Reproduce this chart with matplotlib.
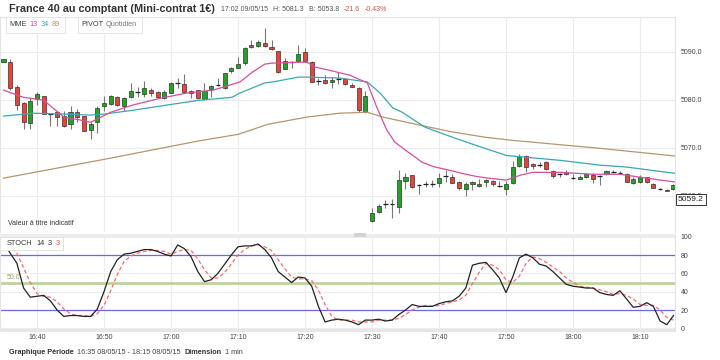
import numpy as np
import matplotlib
matplotlib.use("Agg")
import matplotlib.pyplot as plt
from matplotlib.patches import Rectangle

plt.rcParams['font.family'] = ['Liberation Sans', 'DejaVu Sans']

# --- donnees (minutes depuis 16:35) ---
opens = [5087.8, 5087.8, 5082.6, 5079.3, 5075.1, 5080.1, 5080.8, 5077.0, 5077.4, 5076.6,
         5074.9, 5077.4, 5076.6, 5073.7, 5075.3, 5078.7, 5079.1, 5080.5, 5078.7, 5080.5,
         5081.6, 5081.2, 5082.0, 5081.6, 5080.3, 5081.4, 5083.5, 5083.2, 5081.4, 5082.0,
         5080.1, 5082.2, 5083.0, 5082.4, 5086.0, 5086.6, 5087.6, 5091.4, 5091.1, 5091.8,
         5090.9, 5090.1, 5086.4, 5087.8, 5088.0, 5089.9, 5087.8, 5083.9, 5084.1, 5083.7,
         5084.3, 5084.3, 5083.0, 5082.4, 5077.4, 5054.8, 5056.6, 5058.3, 5058.3, 5057.7,
         5063.1, 5064.3, 5062.2, 5062.5, 5062.5, 5062.7, 5064.1, 5063.9, 5062.9, 5061.4,
         5062.5, 5062.0, 5062.9, 5063.1, 5062.0, 5061.4, 5062.7, 5066.2, 5068.3, 5066.6,
         5066.4, 5067.0, 5065.2, 5064.5, 5065.0, 5063.7, 5063.5, 5063.9, 5064.3, 5064.1,
         5064.5, 5065.0, 5064.7, 5064.5, 5062.7, 5062.9, 5063.9, 5062.5, 5061.4, 5061.3,
         5061.4]
highs = [5088.4, 5088.4, 5083.0, 5079.5, 5080.3, 5081.6, 5080.8, 5077.2, 5077.6, 5077.6,
         5078.7, 5078.1, 5076.7, 5075.3, 5078.7, 5080.8, 5080.9, 5080.8, 5080.5, 5083.5,
         5082.6, 5083.9, 5082.4, 5081.8, 5082.0, 5083.7, 5084.5, 5085.3, 5082.0, 5082.1,
         5083.5, 5083.0, 5084.5, 5085.6, 5086.8, 5088.9, 5090.9, 5092.4, 5092.4, 5094.9,
         5092.4, 5090.1, 5088.7, 5088.0, 5091.4, 5090.7, 5088.0, 5084.5, 5085.1, 5084.7,
         5085.7, 5084.5, 5083.5, 5082.6, 5081.8, 5057.5, 5058.3, 5059.1, 5059.3, 5065.4,
         5064.7, 5064.4, 5062.5, 5063.1, 5063.3, 5064.7, 5065.4, 5064.5, 5063.1, 5062.9,
         5063.1, 5063.5, 5063.5, 5063.3, 5063.1, 5063.1, 5067.2, 5068.7, 5068.5, 5066.8,
         5067.0, 5067.2, 5065.4, 5064.7, 5065.4, 5064.5, 5064.3, 5064.7, 5064.7, 5064.3,
         5065.4, 5065.4, 5065.2, 5064.7, 5063.9, 5064.3, 5064.0, 5062.6, 5061.6, 5061.4,
         5062.5]
lows = [5087.8, 5082.0, 5077.8, 5073.9, 5073.9, 5078.9, 5077.0, 5074.5, 5074.5, 5074.3,
        5073.9, 5075.3, 5073.4, 5071.8, 5073.0, 5077.6, 5079.0, 5078.7, 5077.6, 5080.3,
        5080.5, 5080.5, 5080.8, 5080.3, 5080.1, 5081.4, 5082.4, 5081.4, 5080.3, 5080.2,
        5079.9, 5080.5, 5082.8, 5082.3, 5085.5, 5086.5, 5087.2, 5090.7, 5090.9, 5090.9,
        5090.3, 5085.5, 5086.3, 5086.6, 5087.8, 5087.9, 5083.6, 5083.0, 5083.2, 5082.4,
        5083.2, 5083.0, 5082.6, 5077.4, 5077.3, 5054.6, 5056.4, 5057.5, 5055.4, 5056.4,
        5061.4, 5061.7, 5060.4, 5061.8, 5061.8, 5061.8, 5062.9, 5062.6, 5061.2, 5060.0,
        5061.2, 5061.8, 5061.8, 5062.0, 5061.8, 5060.2, 5062.5, 5066.0, 5065.0, 5065.6,
        5066.0, 5065.4, 5063.7, 5063.9, 5064.3, 5063.5, 5063.5, 5063.7, 5062.7, 5062.2,
        5064.3, 5064.7, 5064.5, 5062.8, 5062.5, 5062.7, 5062.7, 5061.6, 5061.3, 5061.0,
        5061.2]
closes = [5088.4, 5082.4, 5078.9, 5075.3, 5079.7, 5081.2, 5077.0, 5077.0, 5076.4, 5074.5,
          5077.4, 5076.4, 5073.5, 5074.9, 5078.3, 5079.3, 5080.8, 5078.9, 5080.3, 5081.8,
          5081.6, 5082.4, 5081.4, 5080.5, 5081.6, 5083.5, 5083.5, 5081.6, 5081.8, 5080.3,
          5081.8, 5082.8, 5083.0, 5085.5, 5086.6, 5087.4, 5090.7, 5090.9, 5092.0, 5091.1,
          5090.5, 5085.7, 5088.0, 5087.8, 5089.5, 5088.0, 5083.7, 5083.9, 5083.5, 5084.1,
          5084.3, 5083.2, 5082.6, 5077.8, 5080.8, 5056.4, 5057.9, 5058.3, 5058.3, 5063.3,
          5063.9, 5061.8, 5062.2, 5062.5, 5062.5, 5063.7, 5064.1, 5062.7, 5061.6, 5062.5,
          5062.9, 5062.5, 5063.3, 5062.5, 5062.0, 5062.5, 5066.0, 5068.1, 5066.0, 5066.2,
          5066.4, 5065.6, 5064.1, 5064.5, 5064.5, 5063.7, 5063.9, 5064.5, 5063.5, 5064.1,
          5065.2, 5065.0, 5064.7, 5062.9, 5063.5, 5063.9, 5062.9, 5061.6, 5061.4, 5061.1,
          5062.2]

# moyennes mobiles exponentielles
mme13_t = [0, 3, 6, 9, 11.4, 13, 16, 19.3, 23.4, 27.4, 31.3, 35.3, 37.1, 39, 40, 44, 45.3,
           46.5, 48.4, 51.7, 54.3, 55.7, 57.2, 58.4, 60.4, 62.5, 64.4, 66.4, 68.4, 70.4,
           72.3, 75.1, 77.1, 79, 81.1, 83.1, 88, 92, 95, 98, 100.2]
mme13_v = [5082.0, 5080.5, 5079.9, 5076.4, 5075.8, 5075.3, 5077.4, 5078.9, 5080.3, 5081.4,
           5082.0, 5083.7, 5085.7, 5087.4, 5087.6, 5087.8, 5087.8, 5086.8, 5086.2, 5085.1,
           5083.5, 5078.5, 5073.7, 5071.2, 5069.1, 5067.0, 5066.0, 5065.4, 5064.7, 5064.1,
           5063.7, 5063.3, 5064.3, 5064.9, 5064.9, 5064.9, 5064.5, 5064.5, 5063.9, 5063.3,
           5062.9]
mme34_t = [0, 4.4, 9.5, 12.9, 14.9, 19.3, 24.4, 29.3, 34.1, 35.3, 39, 40.2, 44, 45.3, 50.2,
           54.3, 56.2, 58.1, 59.5, 62.9, 67, 71.4, 75.1, 83.1, 89, 93, 100.2]
mme34_v = [5076.6, 5077.2, 5077.0, 5076.8, 5077.0, 5077.8, 5078.9, 5079.9, 5080.5, 5081.4,
           5083.5, 5083.7, 5084.7, 5084.7, 5084.5, 5083.7, 5081.4, 5078.3, 5077.4, 5074.3,
           5072.2, 5070.1, 5068.4, 5067.4, 5066.4, 5066.0, 5064.7]
mme89_t = [0, 15, 29, 35, 39.5, 45.3, 50.2, 54.3, 56.6, 62.2, 67, 71.9, 75.6, 89, 100.2]
mme89_v = [5063.7, 5067.6, 5071.4, 5072.8, 5074.9, 5076.4, 5077.2, 5077.4, 5076.4, 5074.7,
           5073.3, 5072.2, 5071.6, 5069.9, 5068.3]

# stochastique 14 3 3
stoch_k = [94, 82, 71, 44, 34, 35, 36, 30, 20, 13, 14, 14, 13, 13, 21, 40, 62, 75, 81, 82,
           84, 86, 86, 84, 81, 79, 91, 87, 78, 62, 51, 53, 60, 70, 80, 89, 90, 90, 92, 86,
           77, 62, 56, 50, 56, 55, 46, 24, 7, 9, 10, 9, 7, 4, 9, 9, 10, 8, 9, 15,
           20, 26, 24, 24, 24, 27, 29, 30, 35, 44, 69, 71, 72, 64, 55, 39, 56, 77, 81, 77,
           70, 68, 62, 55, 48, 46, 45, 44, 44, 39, 37, 36, 41, 32, 23, 24, 28, 24, 8, 4, 14]
stoch_d = [97, 90, 82, 66, 50, 38, 35, 34, 29, 21, 16, 14, 14, 13, 16, 25, 41, 59, 73, 79,
           82, 84, 85, 85, 84, 81, 84, 86, 85, 76, 64, 55, 55, 61, 70, 80, 86, 90, 91, 89,
           85, 75, 65, 56, 54, 54, 52, 42, 26, 13, 9, 9, 9, 7, 7, 7, 9, 9, 9, 11,
           15, 20, 23, 25, 24, 25, 27, 29, 31, 36, 49, 61, 71, 69, 64, 53, 50, 57, 71, 78,
           76, 72, 67, 62, 55, 50, 46, 45, 44, 42, 40, 37, 38, 36, 32, 26, 25, 25, 20, 12, 9]

tick_pos = [5, 15, 25, 35, 45, 55, 65, 75, 85, 95]
tick_labels = ['16:40', '16:50', '17:00', '17:10', '17:20', '17:30', '17:40', '17:50',
               '18:00', '18:10']
prix_ticks = [5060, 5070, 5080, 5090]
dernier = 5059.2

W, H = 720, 360
VERT, ROUGE = '#1fa51f', '#e8433b'
C13, C34, C89 = '#d44f9f', '#3ba6b6', '#b6966b'
GRILLE = '#ececec'

fig = plt.figure(figsize=(7.2, 3.6), dpi=100)
fig.patch.set_facecolor('white')


def ftxt(x, y, s, **kw):
    kw.setdefault('va', 'center')
    return fig.text(x / W, 1 - y / H, s, **kw)


def frect(x0, y0, x1, y1, **kw):
    fig.patches.append(Rectangle((x0 / W, 1 - y1 / H), (x1 - x0) / W, (y1 - y0) / H,
                                 transform=fig.transFigure, **kw))


def chaine(x, y, morceaux, gap=3, **kw):
    # place les morceaux de texte les uns apres les autres
    rend = fig.canvas.get_renderer()
    for s, style in morceaux:
        tx = ftxt(x, y, s, **kw, **style)
        x += tx.get_window_extent(rend).width + gap


t = np.arange(len(closes))
o, h, l, c = map(np.array, (opens, highs, lows, closes))
xlim = (-3.5 / 6.7, (675 - 3.5) / 6.7)

# --- panneau des prix ---
ax = fig.add_axes([0, 1 - 232 / H, 675 / W, (232 - 17) / H])
ax.set_xlim(*xlim)
ax.set_ylim(5052.5, 5097.2)
ax.set_xticks(tick_pos)
ax.set_xticklabels([])
ax.set_yticks(prix_ticks)
ax.set_yticklabels([f'{v:.1f}' for v in prix_ticks])
ax.yaxis.tick_right()
ax.tick_params(length=0, labelsize=5, colors='#444444', pad=4)
ax.grid(True, color=GRILLE, lw=0.8)
ax.set_axisbelow(True)
for s in ax.spines:
    ax.spines[s].set_color('#e4e4e4')
ax.spines['bottom'].set_visible(False)

ax.vlines(t, l, h, color='#777777', lw=0.8, zorder=2)
doji = np.abs(c - o) < 0.15
couleurs = np.where(c >= o, VERT, ROUGE)
ax.bar(t[~doji], np.abs(c - o)[~doji], bottom=np.minimum(o, c)[~doji], width=0.6,
       color=couleurs[~doji], edgecolor='#333333', lw=0.5, zorder=3)
ax.hlines(c[doji], t[doji] - 0.35, t[doji] + 0.35, color='#222222', lw=0.9, zorder=3)

ax.plot(mme89_t, mme89_v, color=C89, lw=0.9, zorder=4)
ax.plot(mme34_t, mme34_v, color=C34, lw=0.9, zorder=4)
ax.plot(mme13_t, mme13_v, color=C13, lw=0.9, zorder=4)

# l'etiquette du dernier cours passe par-dessus celle de 5060
ax.text(1.004, dernier, f'{dernier:.1f}', transform=ax.get_yaxis_transform(), fontsize=6,
        va='center', ha='left', color='#222222', clip_on=False, zorder=10,
        bbox=dict(boxstyle='square,pad=0.25', fc='white', ec='#333333', lw=0.7))
ax.text(8 / 675, 0.04, 'Valeur à titre indicatif', transform=ax.transAxes, fontsize=5,
        color='#333333', va='center')

# --- panneau stochastique ---
ax2 = fig.add_axes([0, 1 - 331 / H, 675 / W, (331 - 235) / H])
ax2.set_xlim(*xlim)
ax2.set_ylim(-2.9, 101.9)
ax2.set_xticks(tick_pos)
ax2.set_xticklabels(tick_labels)
ax2.set_yticks([0, 20, 40, 60, 80, 100])
ax2.yaxis.tick_right()
ax2.tick_params(length=0, labelsize=5, colors='#444444', pad=4)
ax2.tick_params(axis='x', pad=2)
ax2.grid(True, color=GRILLE, lw=0.8)
ax2.set_axisbelow(True)
for s in ax2.spines:
    ax2.spines[s].set_color('#e4e4e4')
ax2.spines['bottom'].set_visible(False)
ax2.axhline(80, color='#6a6ae0', lw=0.9)
ax2.axhline(20, color='#6a6ae0', lw=0.9)
ax2.axhline(50, color='#bdd49b', lw=2)
ax2.text(7 / 675, 52, '50.0', transform=ax2.get_yaxis_transform(), fontsize=5,
         color='#8aae45', va='bottom')
ax2.plot(t, stoch_d, color='#ff6a6a', lw=0.9, dashes=(3, 2))
ax2.plot(t, stoch_k, color='#222222', lw=0.9)

# bandes de separation
frect(0, 233.5, 675, 237, color='#ececec', lw=0)
frect(354, 233, 366, 236.5, color='#d4d4d4', lw=0)
frect(0, 328.8, 675, 331.5, color='#e6e6e6', lw=0)

# --- textes ---
ftxt(9, 9.5, 'France 40 au comptant (Mini-contrat 1€)', fontsize=7.8, fontweight='bold',
     color='#333333')
gris = {'color': '#555555'}
rouge = {'color': '#e0503f'}
chaine(221, 9.5, [('17:02 09/05/15', gris), ('H: 5081.3', gris), ('B: 5053.8', gris),
                  ('-21.6', rouge), ('-0.43%', rouge)], gap=5, fontsize=5)

frect(6, 17, 65, 33, fc='white', ec='#e4e4e4', lw=0.7)
frect(78, 17, 142, 33, fc='white', ec='#e4e4e4', lw=0.7)
chaine(9, 25, [('MME', {'color': '#444444'}), ('13', {'color': C13}),
               ('34', {'color': C34}), ('89', {'color': C89})], gap=3, fontsize=5.3)
chaine(81, 25, [('PIVOT', {'color': '#444444'}), ('Quotidien', {'color': '#777777'})],
       gap=3, fontsize=5.3)

frect(0, 237, 63, 250, fc='white', ec='#e4e4e4', lw=0.7)
chaine(7, 243.5, [('STOCH', {'color': '#333333'}), ('14', {'color': '#333333'}),
                  ('3', {'color': '#333333'}), ('3', {'color': '#e0503f'})],
       gap=3.5, fontsize=5.3)

noir_gras = {'color': '#333333', 'fontweight': 'bold'}
normal = {'color': '#444444'}
chaine(9, 352.5, [('Graphique Période', noir_gras),
                  ('16:35 08/05/15 - 18:15 08/05/15', normal),
                  ('Dimension', noir_gras), ('1 min', normal)], gap=3.5, fontsize=5.2)

fig.savefig('out.png', dpi=100)
